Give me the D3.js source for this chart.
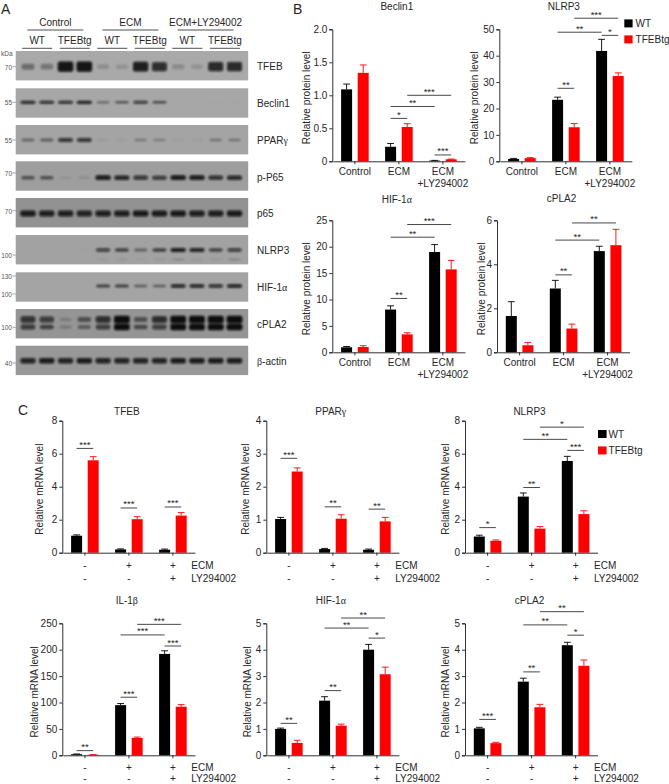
<!DOCTYPE html>
<html>
<head>
<meta charset="utf-8">
<script src="https://cdn.jsdelivr.net/npm/d3@7"></script>
<style>
html,body{margin:0;padding:0;background:#fff}
svg{display:block}
text{font-family:"Liberation Sans",Arial,sans-serif;fill:#262626}
.greek{font-family:"Liberation Serif",serif}
</style>
</head>
<body>
<svg id="fig" width="669" height="784"></svg>
<script>
/* ---------- Data: panel A (band intensity per lane, 0-1) ---------- */
const conditions = ["Control", "ECM", "ECM+LY294002"];
const genotypes = ["WT", "TFEBtg"];
const lanes = d3.range(12);
const tfebBlot    = [.36,.3,.95,.95,.16,.14,.9,.8,.18,.14,.82,.82];
const beclinBlot  = [.82,.8,.8,.88,.4,.5,.72,.58,.01,.01,.03,.03];
const pparBlot    = [.38,.44,.75,.75,.08,.06,.28,.25,.06,.06,.3,.3];
const pP65Blot    = [.5,.5,.1,.13,.9,.85,.75,.72,.92,.9,.78,.82];
const p65Blot     = [.9,.88,.88,.85,.88,.88,.92,.9,.92,.88,.88,.9];
const nlrpUpper   = [0,0,0,.03,.68,.6,.42,.62,.9,.85,.6,.7];
const nlrpLower   = [0,0,0,0,.1,.14,.07,.16,.22,.14,.14,.26];
const hifBlot     = [0,0,0,0,.62,.62,.45,.45,.85,.85,.78,.88];
const cplaUpper   = [.75,.68,.18,.48,.78,1,.48,.8,1,1,1,1];
const cplaLower   = [.7,.58,.22,.4,.68,1,.52,.68,1,1,1,1];
const actinBlot   = [.85,.9,.85,.9,.85,.85,.85,.85,.9,.9,.9,.9];

/* ---------- Data: panels B and C ---------- */
const series = ["WT", "TFEBtg"];
const proteinGroups = ["Control", "ECM", "ECM|+LY294002"];
const mrnaGroups = ["g1", "g2", "g3"];
const ecmSigns = ["-", "+", "+"];
const lySigns = ["-", "-", "+"];

const beclinProtWT = [1.09, 0.22, 0.01];
const beclinProtTg = [1.34, 0.52, 0.03];
const beclinProtErrWT = [0.08, 0.05, 0.004];
const beclinProtErrTg = [0.12, 0.05, 0.004];
const beclinProtSig = [[2,3,.65,"*"],[2,4,.83,"**"],[3,5,1.0,"***"],[4,5,.096,"***"]];

const nlrpProtWT = [0.9, 23.3, 41.8];
const nlrpProtTg = [1.2, 12.9, 32.3];
const nlrpProtErrWT = [0.2, 1.0, 4.4];
const nlrpProtErrTg = [0.2, 1.4, 1.2];
const nlrpProtSig = [[2,3,27.65,"**"],[2,4,48.9,"**"],[3,5,54.2,"***"],[4,5,47.7,"*"]];

const hifProtWT = [0.95, 8.1, 19];
const hifProtTg = [1.0, 3.4, 15.7];
const hifProtErrWT = [0.15, 0.7, 1.4];
const hifProtErrTg = [0.25, 0.3, 1.7];
const hifProtSig = [[2,3,10.2,"**"],[2,4,21.8,"**"],[3,5,24.2,"***"]];

const cplaProtWT = [1.65, 2.9, 4.6];
const cplaProtTg = [0.32, 1.08, 4.87];
const cplaProtErrWT = [0.65, 0.37, 0.22];
const cplaProtErrTg = [0.13, 0.2, 0.72];
const cplaProtSig = [[2,3,3.52,"**"],[2,4,5.1,"**"],[3,5,5.88,"**"]];

const tfebMrnaWT = [1.03, 0.2, 0.18];
const tfebMrnaTg = [5.6, 2.03, 2.25];
const tfebMrnaErrWT = [0.05, 0.03, 0.04];
const tfebMrnaErrTg = [0.22, 0.15, 0.18];
const tfebMrnaSig = [[0,1,6.32,"***"],[2,3,2.71,"***"],[4,5,2.77,"***"]];

const pparMrnaWT = [1.02, 0.11, 0.09];
const pparMrnaTg = [2.46, 1.03, 0.95];
const pparMrnaErrWT = [0.05, 0.02, 0.02];
const pparMrnaErrTg = [0.11, 0.12, 0.12];
const pparMrnaSig = [[0,1,2.86,"***"],[2,3,1.39,"**"],[4,5,1.32,"**"]];

const nlrpMrnaWT = [0.98, 3.4, 5.56];
const nlrpMrnaTg = [0.72, 1.46, 2.34];
const nlrpMrnaErrWT = [0.08, 0.22, 0.28];
const nlrpMrnaErrTg = [0.05, 0.12, 0.2];
const nlrpMrnaSig = [[0,1,1.52,"*"],[2,3,3.95,"**"],[4,5,6.2,"***"],[2,4,6.87,"**"],[3,5,7.61,"*"]];

const il1MrnaWT = [2, 95, 192];
const il1MrnaTg = [1, 33, 92];
const il1MrnaErrWT = [0.5, 3, 6];
const il1MrnaErrTg = [0.3, 1.5, 4];
const il1MrnaSig = [[0,1,8.8,"**"],[2,3,110,"***"],[4,5,207,"***"],[2,4,228,"***"],[3,5,248,"***"]];

const hifMrnaWT = [1.0, 2.07, 4.0];
const hifMrnaTg = [0.47, 1.12, 3.07];
const hifMrnaErrWT = [0.03, 0.15, 0.2];
const hifMrnaErrTg = [0.1, 0.06, 0.27];
const hifMrnaSig = [[0,1,1.21,"**"],[2,3,2.45,"**"],[4,5,4.44,"*"],[2,4,4.82,"**"],[3,5,5.2,"**"]];

const cplaMrnaWT = [1.02, 2.79, 4.17];
const cplaMrnaTg = [0.46, 1.82, 3.39];
const cplaMrnaErrWT = [0.04, 0.13, 0.11];
const cplaMrnaErrTg = [0.03, 0.11, 0.22];
const cplaMrnaSig = [[0,1,1.36,"***"],[2,3,3.16,"**"],[4,5,4.55,"*"],[2,4,4.94,"**"],[3,5,5.44,"**"]];

/* ---------- Helpers ---------- */
const svg = d3.select("#fig");
const FONT = 10;
const colors = d3.scaleOrdinal(series, ["#000", "#ff0000"]);

function rich(sel, str) {
  // Greek letters are set in a serif face, as in the figure
  str.split(/([αβγ])/).filter(s => s).forEach(part => {
    sel.append("tspan").attr("class", /[αβγ]/.test(part) ? "greek" : null).text(part);
  });
  return sel;
}
function label(parent, x, y, str, opts = {}) {
  const t = parent.append("text").attr("x", x).attr("y", y)
    .attr("font-size", opts.size || FONT)
    .attr("text-anchor", opts.anchor || "middle")
    .attr("dominant-baseline", "central");
  if (opts.fill) t.style("fill", opts.fill);
  if (opts.rotate) t.attr("transform", `rotate(-90 ${x} ${y})`);
  return rich(t, str);
}

/* ---------- Panel letters ---------- */
label(svg, 1, 9, "A", {size: 14, anchor: "start"});
label(svg, 293, 8.5, "B", {size: 14, anchor: "start"});
label(svg, 18, 409.5, "C", {size: 14, anchor: "start"});

/* ---------- Panel A: immunoblots ---------- */
const defs = svg.append("defs");
defs.append("filter").attr("id", "soft").attr("x", "-30%").attr("y", "-100%").attr("width", "160%").attr("height", "300%")
  .append("feGaussianBlur").attr("stdDeviation", "1.1 0.8");

const laneScale = d3.scaleBand().domain(lanes).range([18.6, 243.9]);

const blots = [
  {name:"TFEB",    top:51,    bg:"#a9a9a9", bands:[{v:tfebBlot,  dy:15.7, h:10.5}], marks:[["70",66.7]], ly:65.5},
  {name:"Beclin1", top:88.3,  bg:"#a7a7a7", bands:[{v:beclinBlot,dy:14,   h:3.6}],  marks:[["55",102.3]], ly:103.3},
  {name:"PPARγ",   top:125,   bg:"#a4a4a4", bands:[{v:pparBlot,  dy:15,   h:5}],    marks:[["55",140]], ly:140},
  {name:"p-P65",   top:161.3, bg:"#9e9e9e", bands:[{v:pP65Blot,  dy:16.4, h:5}],    marks:[["70",173]], ly:176.7},
  {name:"p65",     top:198,   bg:"#929292", bands:[{v:p65Blot,   dy:15.5, h:6.5}],  marks:[["70",210.7]], ly:213.3},
  {name:"NLRP3",   top:235,   bg:"#a2a2a2", bands:[{v:nlrpUpper, dy:15,   h:4.5},{v:nlrpLower,dy:24.5,h:2.6}], marks:[["100",255]], ly:250},
  {name:"HIF-1α",  top:272.3, bg:"#a4a4a4", bands:[{v:hifBlot,   dy:13.7, h:4}],    marks:[["130",276],["100",294]], ly:287.3},
  {name:"cPLA2",   top:309,   bg:"#959595", bands:[{v:cplaUpper, dy:10.5, h:7.5},{v:cplaLower,dy:18,h:6.5}], marks:[["100",327.3]], ly:324},
  {name:"β-actin", top:345.7, bg:"#989898", bands:[{v:actinBlot, dy:15,   h:6}],    marks:[["40",363]], ly:361}
];
const blotH = 29.4;
const gA = svg.append("g");

blots.forEach((b, bi) => {
  const clipId = "clip" + bi;
  defs.append("clipPath").attr("id", clipId).append("rect")
    .attr("x", 15.7).attr("y", b.top).attr("width", 232.5).attr("height", blotH);
  gA.append("rect").attr("x", 15.7).attr("y", b.top).attr("width", 232.5).attr("height", blotH).attr("fill", b.bg);
  const g = gA.append("g").attr("clip-path", `url(#${clipId})`).append("g").attr("filter", "url(#soft)");
  b.bands.forEach(band => {
    g.selectAll(null).data(band.v).join("rect")
      .attr("x", (d, i) => laneScale(i) + laneScale.bandwidth() / 2 - (5.6 + 2.3 * d))
      .attr("width", d => 2 * (5.6 + 2.3 * d))
      .attr("y", d => b.top + band.dy - (0.35 + 0.65 * d) * band.h / 2)
      .attr("height", d => (0.35 + 0.65 * d) * band.h)
      .attr("rx", 2)
      .attr("fill", "#0a0a0a")
      .attr("opacity", d => d);
  });
  label(gA, 257, b.ly, b.name, {anchor: "start"});
  b.marks.forEach(m => {
    label(gA, 12, m[1], m[0], {size: 6.5, anchor: "end", fill: "#555"});
    gA.append("line").attr("x1", 12.5).attr("x2", 15.7).attr("y1", m[1]).attr("y2", m[1]).attr("stroke", "#666").attr("stroke-width", .6);
  });
});
label(gA, 1, 52.5, "kDa", {size: 6.5, anchor: "start", fill: "#555"});

// column headers
const condScale = d3.scaleBand().domain(conditions).range([18.6, 243.9]);
conditions.forEach((c, ci) => {
  const cx = condScale(c) + condScale.bandwidth() / 2 - 0.8;
  label(gA, cx, 21.6, c);
  gA.append("line").attr("x1", cx - 28).attr("x2", cx + 28).attr("y1", 30).attr("y2", 30).attr("stroke", "#222").attr("stroke-width", .8);
  genotypes.forEach((g, gi) => {
    const gx = laneScale(ci * 4 + gi * 2) + laneScale.bandwidth() - 0.2;
    label(gA, gx, 39.5, g);
    gA.append("line").attr("x1", gx - 15).attr("x2", gx + 15).attr("y1", 48.3).attr("y2", 48.3).attr("stroke", "#222").attr("stroke-width", .8);
  });
});

/* ---------- Panels B and C: bar charts ---------- */
const barSpan = 16.6, barW = 11, plotW = 133, plotH = 132, capHalf = 3.4;

function barPanel(p) {
  const g = svg.append("g").attr("transform", `translate(${p.x},${p.y})`);
  const y = d3.scaleLinear().domain([0, p.max]).range([plotH, 0]);
  const xg = d3.scaleBand().domain(p.groups).range([0.6, 132.6]);
  const xs = d3.scalePoint().domain(series).range([-barSpan / 2, barSpan / 2]);
  const center = (gi, s) => xg(p.groups[gi]) + xg.bandwidth() / 2 + xs(s);
  const barCenter = i => center(Math.floor(i / 2), series[i % 2]);

  series.forEach((s, si) => {
    const vals = p.values[si], errs = p.errors[si];
    const sg = g.append("g").attr("fill", colors(s)).attr("stroke", colors(s));
    vals.forEach((v, i) => {
      const cx = center(i, s);
      sg.append("line").attr("x1", cx).attr("x2", cx).attr("y1", y(v)).attr("y2", y(v + errs[i])).attr("stroke-width", .9);
      sg.append("line").attr("x1", cx - capHalf).attr("x2", cx + capHalf).attr("y1", y(v + errs[i])).attr("y2", y(v + errs[i])).attr("stroke-width", .9);
      sg.append("rect").attr("x", cx - barW / 2).attr("width", barW).attr("y", y(v)).attr("height", Math.max(0, plotH - y(v))).attr("stroke", "none");
    });
  });

  // axes
  const yAxis = d3.axisLeft(y).tickValues(p.ticks).tickSize(3).tickPadding(2)
    .tickFormat(d => d === 0 ? "0" : (p.decimals ? d.toFixed(p.decimals) : String(d)));
  const ya = g.append("g").call(yAxis);
  const xa = g.append("g").attr("transform", `translate(0,${plotH})`)
    .call(d3.axisBottom(xg).tickSize(3).tickSizeOuter(0).tickFormat(""));
  [ya, xa].forEach(a => {
    a.selectAll("path,line").attr("stroke", "#1a1a1a").attr("stroke-width", .9);
    a.selectAll("text").attr("font-size", FONT).style("font-family", '"Liberation Sans"').style("fill", "#262626");
  });

  // significance brackets
  p.sig.forEach(([a, b, v, star]) => {
    g.append("line").attr("x1", barCenter(a)).attr("x2", barCenter(b)).attr("y1", y(v)).attr("y2", y(v)).attr("stroke", "#1a1a1a").attr("stroke-width", .8);
    g.append("text").attr("x", (barCenter(a) + barCenter(b)) / 2).attr("y", y(v) - 0.5).attr("text-anchor", "middle").attr("font-size", 9.5).text(star);
  });

  // titles and labels
  label(g, plotW / 2 - 2, p.titleY, p.title);
  label(g, p.ylabelX, plotH / 2 + 2.5, p.ylabel, {rotate: true});

  if (p.kind === "protein") {
    p.groups.forEach(gr => {
      const cx = xg(gr) + xg.bandwidth() / 2;
      gr.split("|").forEach((line, li) => label(g, cx, 9.5 + plotH + li * 11.8, line));
    });
  } else {
    const row2 = Math.min(plotH + 25.3, 778.3 - p.y);
    p.groups.forEach((gr, i) => {
      const cx = xg(gr) + xg.bandwidth() / 2;
      label(g, cx, plotH + 12, ecmSigns[i]);
      label(g, cx, row2, lySigns[i]);
    });
    label(g, 129, plotH + 12, "ECM", {anchor: "start"});
    label(g, 129, row2, "LY294002", {anchor: "start"});
  }
}

function protein(x, y, title, max, ticks, values, errors, sig, ylabelX, titleY, decimals) {
  barPanel({kind:"protein", x, y, title, max, ticks, values, errors, sig, ylabelX, titleY, decimals,
    groups: proteinGroups, ylabel: "Relative protein level"});
}
function mrna(x, y, title, max, ticks, values, errors, sig, ylabelX, titleY) {
  barPanel({kind:"mrna", x, y, title, max, ticks, values, errors, sig, ylabelX, titleY,
    groups: mrnaGroups, ylabel: "Relative mRNA level"});
}

protein(332.3, 29.3, "Beclin1", 2, [0,.5,1,1.5,2], [beclinProtWT, beclinProtTg], [beclinProtErrWT, beclinProtErrTg], beclinProtSig, -26, -23.5, 1);
protein(499.3, 29.3, "NLRP3", 50, [0,10,20,30,40,50], [nlrpProtWT, nlrpProtTg], [nlrpProtErrWT, nlrpProtErrTg], nlrpProtSig, -25.3, -23.5);
protein(332.3, 220.3, "HIF-1α", 25, [0,5,10,15,20,25], [hifProtWT, hifProtTg], [hifProtErrWT, hifProtErrTg], hifProtSig, -26, -21.5);
protein(497, 220.3, "cPLA2", 6, [0,2,4,6], [cplaProtWT, cplaProtTg], [cplaProtErrWT, cplaProtErrTg], cplaProtSig, -16.3, -22);

mrna(62.3, 420.7, "TFEB", 8, [0,2,4,6,8], [tfebMrnaWT, tfebMrnaTg], [tfebMrnaErrWT, tfebMrnaErrTg], tfebMrnaSig, -23.3, -10);
mrna(266.3, 420.7, "PPARγ", 4, [0,1,2,3,4], [pparMrnaWT, pparMrnaTg], [pparMrnaErrWT, pparMrnaErrTg], pparMrnaSig, -21.3, -9.5);
mrna(465, 420.7, "NLRP3", 8, [0,2,4,6,8], [nlrpMrnaWT, nlrpMrnaTg], [nlrpMrnaErrWT, nlrpMrnaErrTg], nlrpMrnaSig, -20, -9.5);
mrna(62.3, 623.3, "IL-1β", 250, [0,50,100,150,200,250], [il1MrnaWT, il1MrnaTg], [il1MrnaErrWT, il1MrnaErrTg], il1MrnaSig, -28, -23);
mrna(266.3, 623.3, "HIF-1α", 5, [0,1,2,3,4,5], [hifMrnaWT, hifMrnaTg], [hifMrnaErrWT, hifMrnaErrTg], hifMrnaSig, -19.6, -23);
mrna(465, 623.3, "cPLA2", 5, [0,1,2,3,4,5], [cplaMrnaWT, cplaMrnaTg], [cplaMrnaErrWT, cplaMrnaErrTg], cplaMrnaSig, -20, -23);

/* ---------- Legends ---------- */
function legend(x, y, swatchW, gapX, rowGap) {
  series.forEach((s, i) => {
    svg.append("rect").attr("x", x).attr("y", y + i * rowGap).attr("width", swatchW).attr("height", 8).attr("fill", colors(s));
    label(svg, x + swatchW + gapX, y + i * rowGap + 4, s, {anchor: "start"});
  });
}
legend(624.3, 19.4, 8.3, 3, 16);
legend(598, 430, 8.6, 2, 16.4);
</script>
</body>
</html>
